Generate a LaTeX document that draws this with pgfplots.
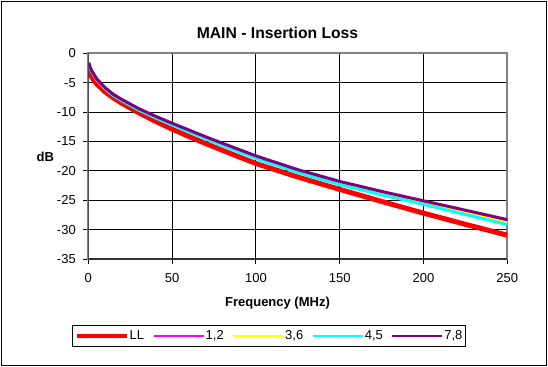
\documentclass[border=0pt]{standalone}
\usepackage{pgfplots}
\pgfplotsset{compat=1.18}
\usepackage{pgfplotstable}
\usepackage{fontspec}
\setmainfont{Liberation Sans}
\definecolor{llred}{RGB}{255,0,0}
\definecolor{cmag}{RGB}{255,0,255}
\definecolor{cyel}{RGB}{255,255,0}
\definecolor{ccyan}{RGB}{0,255,255}
\definecolor{cpurp}{RGB}{128,0,128}
\definecolor{bordergray}{RGB}{128,128,128}

\pgfplotstableread{
f     LL      s12     s36     s45     s78
0.3   -2.90   -1.65   -1.70   -1.75   -1.60
1     -3.45   -2.35   -2.40   -2.45   -2.30
2     -4.05   -3.00   -3.05   -3.10   -2.95
5     -5.20   -4.40   -4.45   -4.50   -4.35
10    -6.55   -5.90   -5.95   -6.05   -5.85
15    -7.60   -7.05   -7.10   -7.20   -7.00
20    -8.50   -7.90   -7.97   -8.07   -7.85
30    -10.10  -9.47   -9.55   -9.65   -9.40
40    -11.55  -10.78  -10.87  -10.98  -10.70
50    -12.90  -12.00  -12.10  -12.20  -11.90
60    -14.15  -13.15  -13.25  -13.38  -13.05
70    -15.35  -14.30  -14.42  -14.56  -14.20
80    -16.50  -15.40  -15.53  -15.68  -15.30
100   -18.75  -17.57  -17.70  -17.90  -17.45
125   -21.05  -19.93  -20.08  -20.30  -19.80
150   -23.15  -21.95  -22.10  -22.35  -21.80
175   -25.20  -23.67  -23.85  -24.08  -23.50
200   -27.20  -25.30  -25.50  -25.70  -25.10
225   -29.10  -26.92  -27.17  -27.42  -26.70
250   -30.95  -28.55  -28.85  -29.15  -28.30
}\ILdata

\begin{document}
\begin{tikzpicture}
\useasboundingbox (0,0) rectangle (548bp,-367bp);
\draw[black, line width=1bp] (1.5bp,-1.5bp) rectangle (546.5bp,-365.5bp);
\begin{axis}[
  at={(88.3bp,-259bp)}, anchor=south west,
  scale only axis, width=419bp, height=205.7bp,
  xmin=0, xmax=250, ymin=-35, ymax=0,
  xtick={0,50,...,250}, ytick={-35,-30,...,0},
  grid=major, major grid style={black, line width=0.9bp},
  axis line style={draw=bordergray, line width=2bp},
  tick pos=left, tick align=outside, major tick length=5bp,
  tick style={black, line width=0.9bp},
  font=\fontsize{13bp}{15bp}\selectfont,
  /pgf/number format/assume math mode=true,
  xticklabel style={yshift=-6bp},
  yticklabel style={xshift=-4bp},
  title={MAIN - Insertion Loss},
  title style={at={(0.4516,1.0695)}, anchor=center, font=\fontsize{15.7bp}{18bp}\selectfont\bfseries},
  xlabel={Frequency (MHz)},
  xlabel style={at={(0.4516,-0.2124)}, anchor=center, font=\fontsize{13bp}{15bp}\selectfont\bfseries},
  ylabel={dB},
  ylabel style={at={(-0.1026,0.4973)}, anchor=center, rotate=-90, font=\fontsize{13bp}{15bp}\selectfont\bfseries},
  legend columns=5,
  legend style={at={(-0.0396,-0.3209)}, anchor=north west, draw=black, line width=1bp, fill=white,
    inner xsep=2.5bp, inner ysep=4bp, font=\fontsize{13bp}{15bp}\selectfont,
    /tikz/every even column/.append style={column sep=7.5bp},
    nodes={inner xsep=1bp, inner ysep=1bp}},
  legend image code/.code={\draw[#1] (0bp,0bp) -- (50bp,0bp);},
]
\addplot[llred, line width=5bp, legend image post style={line width=4bp}] table[x=f, y=LL] {\ILdata};
\addlegendentry{LL}
\addplot[cmag, line width=3bp, legend image post style={line width=2bp}] table[x=f, y=s12] {\ILdata};
\addlegendentry{1,2}
\addplot[cyel, line width=3bp, legend image post style={line width=2bp}] table[x=f, y=s36] {\ILdata};
\addlegendentry{3,6}
\addplot[ccyan, line width=3bp, legend image post style={line width=2bp}] table[x=f, y=s45] {\ILdata};
\addlegendentry{4,5}
\addplot[cpurp, line width=3bp, legend image post style={line width=2bp}] table[x=f, y=s78] {\ILdata};
\addlegendentry{7,8}
\draw[black!80, line width=1.5bp] (rel axis cs:0,1) -- (rel axis cs:0,0) -- (rel axis cs:1,0);
\end{axis}
\end{tikzpicture}
\end{document}
